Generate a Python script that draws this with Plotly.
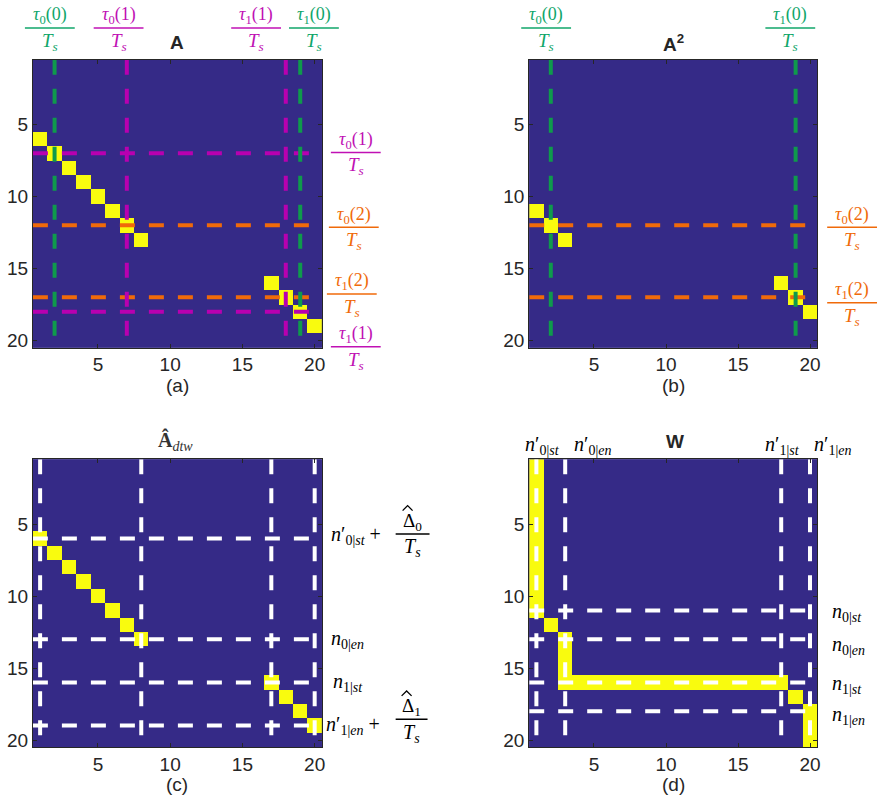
import plotly.graph_objects as go

N = 20
tick_vals = [5, 10, 15, 20]

# ---- heat-map cells equal to 1 (column, row) ----
a_cols = [1, 2, 3, 4, 5, 6, 7, 8, 17, 18, 19, 20]
a_rows = [6, 7, 8, 9, 10, 11, 12, 13, 16, 17, 18, 19]
b_cols = [1, 2, 3, 18, 19, 20]
b_rows = [11, 12, 13, 16, 17, 18]
c_cols = [1, 2, 3, 4, 5, 6, 7, 8, 17, 18, 19, 20]
c_rows = [6, 7, 8, 9, 10, 11, 12, 13, 16, 17, 18, 19]
d_cols = [1, 1, 1, 1, 1, 1, 1, 1, 1, 1, 1, 2, 3, 3, 3, 3,
          4, 5, 6, 7, 8, 9, 10, 11, 12, 13, 14, 15, 16, 17, 18, 19, 20, 20, 20]
d_rows = [1, 2, 3, 4, 5, 6, 7, 8, 9, 10, 11, 12, 13, 14, 15, 16,
          16, 16, 16, 16, 16, 16, 16, 16, 16, 16, 16, 16, 16, 16, 16, 17, 18, 19, 20]

# ---- reference (dashed) lines ----
a_green_v = [2, 19]
a_mag_v = [7, 18]
a_mag_h = [7, 18]
a_orange_h = [12, 17]
b_green_v = [2, 19]
b_orange_h = [12, 17]
c_white_v = [1, 8, 17, 20]
c_white_h = [6, 13, 16, 19]
d_white_v = [1, 3, 18, 20]
d_white_h = [11, 13, 16, 18]

W, H = 882, 805
BG = "#352a87"
YEL = "#f9fb0e"
GREEN_L, GREEN_T = "#0f9a4c", "#10a66a"
MAG_L, MAG_T = "#b800b0", "#c010b4"
ORA_L, ORA_T = "#f06a0a", "#f06a0a"
AX = "#262626"
SANS = "Liberation Sans, Arial, sans-serif"
SERIF = "Liberation Serif, Times New Roman, serif"
DASH = "15px,14px"


def X(px):
    return px / W


def Y(py):
    return 1 - py / H


def matrix(cols, rows):
    z = [[0] * N for _ in range(N)]
    for c, r in zip(cols, rows):
        z[r - 1][c - 1] = 1
    return z


fig = go.Figure()

panels = [
    (1, (33, 323), (60, 349), a_cols, a_rows,
     [(a_orange_h, ORA_L), (a_mag_h, MAG_L)], [(a_mag_v, MAG_L), (a_green_v, GREEN_L)]),
    (2, (531, 820), (60, 349), b_cols, b_rows,
     [(b_orange_h, ORA_L)], [(b_green_v, GREEN_L)]),
    (3, (33, 323), (461, 750), c_cols, c_rows,
     [(c_white_h, "white")], [(c_white_v, "white")]),
    (4, (531, 820), (461, 750), d_cols, d_rows,
     [(d_white_h, "white")], [(d_white_v, "white")]),
]

idx = list(range(1, N + 1))

for k, xpx, ypx, cols, rows, hlines, vlines in panels:
    xa = "x" if k == 1 else f"x{k}"
    ya = "y" if k == 1 else f"y{k}"
    fig.add_trace(go.Heatmap(
        z=matrix(cols, rows), x=idx, y=idx, xaxis=xa, yaxis=ya,
        colorscale=[[0, BG], [1, YEL]], zmin=0, zmax=1, showscale=False,
        hoverinfo="skip"))
    for vals, col in hlines:
        for v in vals:
            fig.add_trace(go.Scatter(
                x=[0.5, 20.5], y=[v, v], mode="lines", xaxis=xa, yaxis=ya,
                line=dict(color=col, width=4, dash=DASH), showlegend=False,
                hoverinfo="skip"))
    for vals, col in vlines:
        for v in vals:
            fig.add_trace(go.Scatter(
                x=[v, v], y=[0.5, 20.5], mode="lines", xaxis=xa, yaxis=ya,
                line=dict(color=col, width=4, dash=DASH), showlegend=False,
                hoverinfo="skip"))
    axcommon = dict(showline=True, linecolor=AX, linewidth=1, mirror="ticks",
                    ticks="inside", ticklen=4, tickcolor=AX, tickwidth=1,
                    tickvals=tick_vals, showgrid=False, zeroline=False,
                    tickfont=dict(family=SANS, size=19, color=AX))
    fig.layout[("xaxis" if k == 1 else f"xaxis{k}")] = dict(
        domain=[X(xpx[0]), X(xpx[1])], range=[0.5, 20.5], anchor=ya, **axcommon)
    fig.layout[("yaxis" if k == 1 else f"yaxis{k}")] = dict(
        domain=[Y(ypx[1]), Y(ypx[0])], range=[20.5, 0.5], anchor=xa, **axcommon)

ann = []
shapes = []


def text(px, py, s, color="black", size=20, family=SERIF, xanchor="center"):
    ann.append(dict(x=X(px), y=Y(py), xref="paper", yref="paper", text=s,
                    showarrow=False, xanchor=xanchor, yanchor="middle",
                    font=dict(family=family, size=size, color=color)))


def hat(xc, yc, color="black", w=5, h=2.5):
    shapes.append(dict(type="path", xref="paper", yref="paper",
                       path=f"M {X(xc - w)} {Y(yc + h)} L {X(xc)} {Y(yc - h)} L {X(xc + w)} {Y(yc + h)}",
                       line=dict(color=color, width=1.3)))


def frac(xc, ybar, num, den, color, half=25, size=18, with_hat=False):
    text(xc, ybar - 12, num, color, size)
    text(xc, ybar + 14, den, color, size + 1)
    if with_hat:
        hat(xc - 5, ybar - 26, color)
    shapes.append(dict(type="line", xref="paper", yref="paper",
                       x0=X(xc - half), x1=X(xc + half), y0=Y(ybar), y1=Y(ybar),
                       line=dict(color=color, width=1.5)))


TS = "<i>T<sub>s</sub></i>"


def tau(i, j):
    return f"<i>τ</i><sub>{i}</sub>({j})"


# panel (a)
frac(50, 28, tau(0, 0), TS, GREEN_T)
frac(119, 28, tau(0, 1), TS, MAG_T)
frac(257, 28, tau(1, 1), TS, MAG_T)
frac(315, 28, tau(1, 0), TS, GREEN_T)
frac(357, 153, tau(0, 1), TS, MAG_T)
frac(355, 228, tau(0, 2), TS, ORA_T)
frac(353, 295, tau(1, 2), TS, ORA_T)
frac(357, 348, tau(1, 1), TS, MAG_T)
text(178, 43, "<b>A</b>", AX, 19, SANS)
text(178, 387, "(a)", AX, 19, SANS)

# panel (b)
frac(548, 28, tau(0, 0), TS, GREEN_T)
frac(793, 28, tau(1, 0), TS, GREEN_T)
frac(855, 228, tau(0, 2), TS, ORA_T)
frac(855, 304, tau(1, 2), TS, ORA_T)
text(676, 43, "<b>A<sup>2</sup></b>", AX, 19, SANS)
text(676, 387, "(b)", AX, 19, SANS)

# panel (c)
text(176, 443, "<b>Â</b><sub><i>dtw</i></sub>", "#333333", 20, SERIF)
text(330, 538, "<i>n</i>′<sub>0|<i>st</i></sub> +", "black", 20, SERIF, "left")
frac(414, 536, "Δ<sub>0</sub>", TS, "black", 17, 19, with_hat=True)
text(330, 642, "<i>n</i><sub>0|<i>en</i></sub>", "black", 20, SERIF, "left")
text(332, 685, "<i>n</i><sub>1|<i>st</i></sub>", "black", 20, SERIF, "left")
text(325, 728, "<i>n</i>′<sub>1|<i>en</i></sub> +", "black", 20, SERIF, "left")
frac(413, 722, "Δ<sub>1</sub>", TS, "black", 16, 19, with_hat=True)
text(178, 787, "(c)", AX, 19, SANS)

# panel (d)
text(544, 447, "<i>n</i>′<sub>0|<i>st</i></sub>", "black")
text(595, 447, "<i>n</i>′<sub>0|<i>en</i></sub>", "black")
text(677, 443, "<b>W</b>", AX, 19, SANS)
text(785, 447, "<i>n</i>′<sub>1|<i>st</i></sub>", "black")
text(835, 447, "<i>n</i>′<sub>1|<i>en</i></sub>", "black")
text(833, 615, "<i>n</i><sub>0|<i>st</i></sub>", "black", 20, SERIF, "left")
text(833, 648, "<i>n</i><sub>0|<i>en</i></sub>", "black", 20, SERIF, "left")
text(833, 687, "<i>n</i><sub>1|<i>st</i></sub>", "black", 20, SERIF, "left")
text(833, 718, "<i>n</i><sub>1|<i>en</i></sub>", "black", 20, SERIF, "left")
text(676, 787, "(d)", AX, 19, SANS)

fig.update_layout(width=W, height=H, margin=dict(l=0, r=0, t=0, b=0),
                  paper_bgcolor="white", plot_bgcolor=BG, showlegend=False,
                  annotations=ann, shapes=shapes)

fig.write_html("out.html", config={"displayModeBar": False},
               post_script="document.body.style.margin='0px';"
                           "document.body.style.overflow='hidden';")
